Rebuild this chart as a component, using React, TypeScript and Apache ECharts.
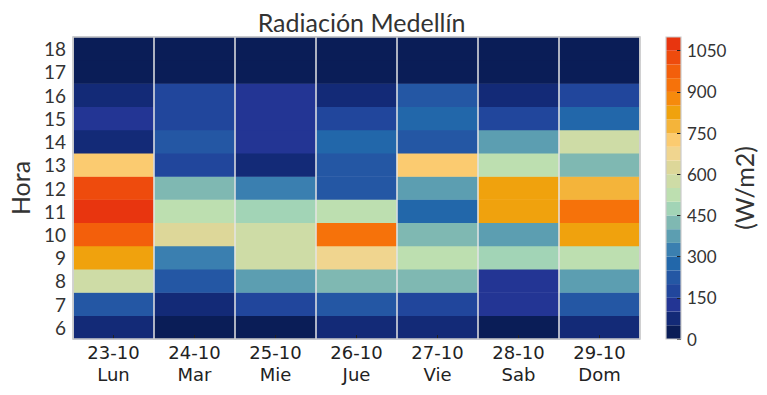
import React, { useEffect, useRef } from "react";
import * as echarts from "echarts";

const days = ["23-10\nLun", "24-10\nMar", "25-10\nMie", "26-10\nJue", "27-10\nVie", "28-10\nSab", "29-10\nDom"];
const hours = ["6", "7", "8", "9", "10", "11", "12", "13", "14", "15", "16", "17", "18"];

// Radiation (W/m2) per hour 6..18 for each day
const lun = [75, 225, 575, 825, 975, 1075, 1025, 725, 75, 125, 75, 25, 25];
const mar = [25, 75, 225, 325, 625, 525, 425, 175, 225, 175, 175, 25, 25];
const mie = [25, 175, 375, 575, 575, 475, 325, 75, 125, 125, 125, 25, 25];
const jue = [75, 225, 425, 675, 925, 525, 225, 225, 275, 175, 75, 25, 25];
const vie = [75, 175, 425, 525, 425, 275, 375, 725, 225, 275, 225, 25, 25];
const sab = [25, 125, 125, 475, 375, 825, 825, 525, 375, 175, 75, 25, 25];
const dom = [75, 225, 375, 525, 825, 925, 775, 425, 575, 275, 175, 25, 25];
const seriesByDay = [lun, mar, mie, jue, vie, sab, dom];

const binSize = 50;
const binColors = [
  "#0a1d57", "#132a77", "#233594", "#21469c", "#2457a4", "#2267aa",
  "#3a7fb0", "#5c9eb1", "#7fb8b2", "#a2d4b6", "#bddfb0", "#cedca6",
  "#ddd799", "#f0d58f", "#fbcb70", "#f4b43a", "#f0a20d", "#f68a0c",
  "#f6720a", "#f35f0b", "#ee4b0d", "#e8350f",
];

const G = { left: 73, right: 127, top: 37, bottom: 56 };
const CB = { left: 666, width: 15 };
const W = 767, H = 395;

export default function App() {
  const ref = useRef<HTMLDivElement>(null);
  useEffect(() => {
    const chart = echarts.init(ref.current!, null, { renderer: "svg" });
    const data: number[][] = [];
    seriesByDay.forEach((arr, d) => arr.forEach((v, h) => data.push([d, h, v])));
    const pieces = binColors.map((c, i) => ({ gte: i * binSize, lt: (i + 1) * binSize, color: c }));
    const cbSeries = binColors.map((c) => ({
      type: "bar",
      xAxisIndex: 1,
      yAxisIndex: 1,
      stack: "cb",
      barWidth: "100%",
      data: [binSize],
      itemStyle: { color: c },
      silent: true,
    }));
    const labelFont = "Lato";
    chart.setOption({
      animation: false,
      title: {
        text: "Radiación Medellín",
        left: (G.left + (W - G.right)) / 2,
        textAlign: "center",
        top: 4,
        textStyle: { fontFamily: labelFont, fontSize: 25, fontWeight: "normal", color: "#333" },
      },
      grid: [
        { left: G.left, right: G.right, top: G.top, bottom: G.bottom, containLabel: false, outerBoundsMode: "none" },
        { left: CB.left, width: CB.width, top: G.top, bottom: G.bottom, containLabel: false, outerBoundsMode: "none" },
      ],
      visualMap: { show: false, type: "piecewise", seriesIndex: 0, pieces },
      xAxis: [
        {
          type: "category",
          data: days,
          gridIndex: 0,
          z: 5,
          axisLine: { show: false },
          axisTick: { show: true, inside: true, alignWithLabel: true, length: 4, lineStyle: { color: "#222" } },
          axisLabel: { fontFamily: "DejaVu Sans", fontSize: 18, color: "#222", lineHeight: 22, margin: 2, interval: 0 },
          splitLine: { show: true, interval: 0, lineStyle: { color: "#e4e4e4", width: 1.5 } },
        },
        { type: "category", data: ["c"], gridIndex: 1, show: false },
      ],
      yAxis: [
        {
          type: "category",
          data: hours,
          gridIndex: 0,
          name: "Hora",
          nameLocation: "middle",
          nameRotate: 90,
          nameGap: 41,
          nameMoveOverlap: false,
          nameTextStyle: { fontFamily: labelFont, fontSize: 25, color: "#333" },
          axisLine: { show: false },
          axisTick: { show: true, inside: true, alignWithLabel: true, interval: 0, length: 4, lineStyle: { color: "#222" } },
          axisLabel: { fontFamily: labelFont, fontSize: 19, lineHeight: 19, color: "#333", margin: 7, interval: 0 },
          splitLine: { show: false },
        },
        {
          type: "value",
          gridIndex: 1,
          position: "right",
          min: 0,
          max: 1100,
          interval: 150,
          name: "(W/m2)",
          nameLocation: "middle",
          nameRotate: 90,
          nameGap: 50,
          nameMoveOverlap: false,
          nameTextStyle: { fontFamily: labelFont, fontSize: 25, color: "#333" },
          axisLine: { show: false },
          axisTick: { show: true, inside: true, length: 4, lineStyle: { color: "#222" } },
          axisLabel: {
            fontFamily: labelFont,
            fontSize: 17,
            color: "#333",
            margin: 6,
            showMaxLabel: false,
            formatter: (v: number) => String(v),
          },
          splitLine: { show: false },
          z: 5,
        },
      ],
      series: [
        {
          type: "heatmap",
          xAxisIndex: 0,
          yAxisIndex: 0,
          data,
          itemStyle: { borderWidth: 0 },
          emphasis: { disabled: true },
        },
        ...cbSeries,
      ],
      graphic: [
        {
          type: "rect",
          shape: { x: G.left, y: G.top, width: W - G.left - G.right, height: H - G.top - G.bottom },
          style: { fill: "none", stroke: "#cccccc", lineWidth: 1.5 },
          z: 10,
        },
        {
          type: "rect",
          shape: { x: CB.left, y: G.top, width: CB.width, height: H - G.top - G.bottom },
          style: { fill: "none", stroke: "#cccccc", lineWidth: 1.2 },
          z: 10,
        },
      ],
    });
    return () => chart.dispose();
  }, []);
  return <div ref={ref} style={{ position: "fixed", left: 0, top: 0, width: W, height: H, background: "#fff" }} />;
}
